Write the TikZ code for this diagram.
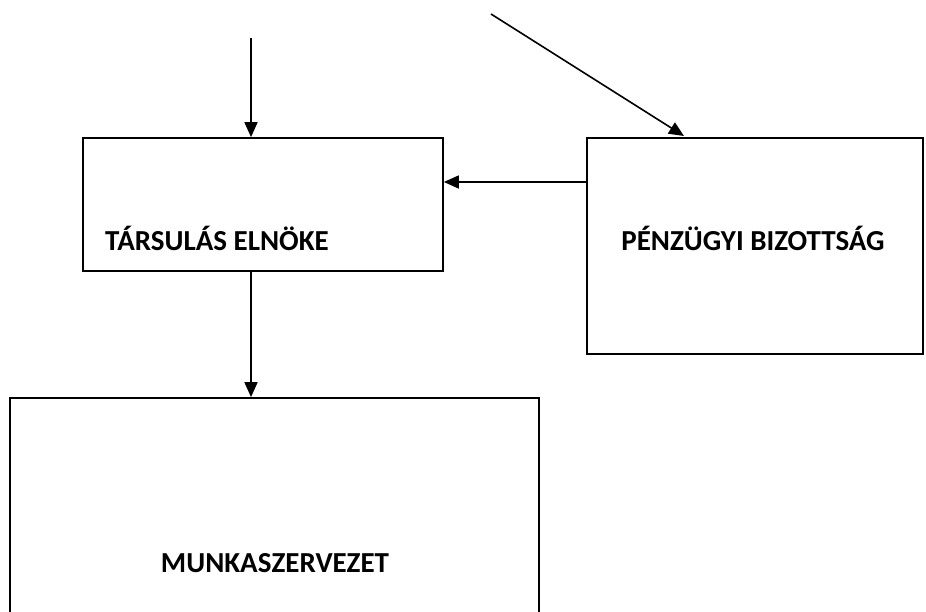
\documentclass[tikz,border=0pt]{standalone}
\usepackage{fontspec}
\setmainfont{Carlito}
\usetikzlibrary{arrows.meta}

\begin{document}
\begin{tikzpicture}[x=1pt,y=-1pt,
		box/.style={draw,line width=1.7pt,inner sep=0pt,minimum width=#1},
		lbl/.style={font=\fontsize{29}{34}\selectfont\bfseries,inner sep=0pt},
		arr/.style={line width=1.6pt,-{Triangle[length=15pt,width=13pt]}}]
		\useasboundingbox (0,0) rectangle (926,612);
		\node[box=360pt,minimum height=133pt] (elnok) at (263,204.5){};
		\node[box=336pt,minimum height=216pt] (bizottsag) at (755,246){};
		\node[box=529pt,minimum height=250pt] (munka) at (274.5,523){};
		\node[lbl,anchor=west] (elnoklbl) at (105,238){TÁRSULÁS ELNÖKE};
		\node[lbl] (bizottsaglbl) at (753,238){PÉNZÜGYI BIZOTTSÁG};
		\node[lbl] (munkalbl) at (275,563){MUNKASZERVEZET};
		\coordinate (felso) at (251,38);
		\coordinate (ferde) at (491,14);
		\coordinate (ferdevege) at (684,136);
		\draw[arr] (felso) -- (felso |- elnok.north);
		\draw[arr] (ferde) -- (ferdevege);
		\draw[arr] (bizottsag.west |- 0,182) -- (elnok.east |- 0,182);
		\draw[arr] (elnok.south -| felso) -- (munka.north -| felso);
	\end{tikzpicture}
\end{document}
